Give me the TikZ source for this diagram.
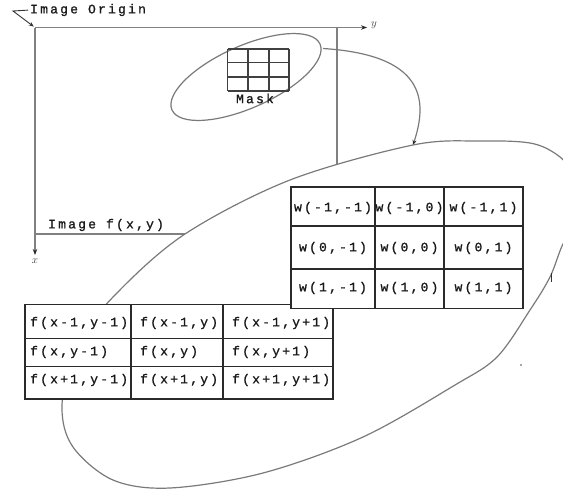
\documentclass[tikz,border=0pt]{standalone}
\usepackage{fontspec}
\newfontfamily\cour[LetterSpace=17,FakeBold=1.2]{Liberation Mono}
\usetikzlibrary{arrows.meta}
\definecolor{axisgray}{HTML}{808080}
\definecolor{ellgray}{HTML}{7A7A7A}
\definecolor{tabline}{HTML}{2A2A2A}
\begin{document}
\begin{tikzpicture}[x=1pt,y=-1pt,
  txt/.style={font=\cour\fontsize{13}{15}\selectfont, inner sep=0pt, text=black!90},
  lab/.style={font=\fontsize{11}{12}\selectfont, inner sep=0pt, text=black!75},
  axis/.style={draw=axisgray, line width=1.8pt},
  ell/.style={draw=ellgray, line width=1.2pt},
  maskline/.style={draw=black!75, line width=1.7pt},
  tab/.style={draw=tabline, line width=1.5pt},
  tip/.style={-{Stealth[length=6pt,width=4.5pt,color=black!85,fill=black!85]}}]
\useasboundingbox (0,0) rectangle (563,490);

% image frame and axes
\coordinate (O) at (35,27.5);
\coordinate (Yend) at (367,27.5);
\coordinate (Xend) at (35,255);
\coordinate (TR) at (337,27.5);
\coordinate (BR) at (337,234);
\coordinate (BL) at (35,234);
\draw[axis] (BL) -- (BR) -- (TR);
\draw[axis, tip] (O) -- (Yend);
\draw[axis, tip] (O) -- (Xend);
\node[lab] (ylab) at (374,25) {$y$};
\node[lab] (xlab) at (35,261) {$x$};
\node[txt, anchor=west] (imgf) at (48,225) {Image f(x,y)};

% image origin label
\node[txt, anchor=west] (orig) at (30,10) {Image Origin};
\coordinate (ob) at (13,11);
\draw[black!80, line width=0.9pt, -{Stealth[length=5pt,width=4pt]}, shorten <=2pt, shorten >=1.5pt] (orig.west) -- (ob) -- (O);

% small ellipse with mask
\coordinate (sm) at (246,77);
\draw[ell, rotate around={24:(sm)}] (sm) ellipse [x radius=81, y radius=31];
\foreach \x in {227.5,248.3,269,289.3} \draw[maskline] (\x,49) -- (\x,91);
\foreach \y in {49,62.5,77.3,91} \draw[maskline] (227.5,\y) -- (289.3,\y);
\node[txt] (mask) at (255,98.5) {Mask};

% connector
\coordinate (cs) at (323,48.5);
\coordinate (ce) at (413,145);
\draw[ell, -{Stealth[length=5pt,width=4pt,color=black!85,fill=black!85]}] (cs) .. controls (425,55) and (428,100) .. (ce);

% big enlarged shape
\draw[ell, fill=white] plot[smooth cycle, tension=0.55] coordinates {
  (185,234) (290,180) (413,145) (480,141) (530,143) (556,154) (572,171)
  (582,200) (576,228) (563,244) (550,277) (530,310) (497,357) (455,385)
  (363,437) (263,473) (170,488) (113,480) (73,447) (62,407) (74,348) (115,295)};

% f table
\draw[tab, fill=white] (25,304.3) rectangle (333,399);
\draw[tab] (131,304.3) -- (131,399) (223,304.3) -- (223,399)
  (25,338.3) -- (333,338.3) (25,366.7) -- (333,366.7);
\node[txt, anchor=west] (f11) at (30,323) {f(x-1,y-1)};
\node[txt, anchor=west] (f12) at (140,323) {f(x-1,y)};
\node[txt, anchor=west] (f13) at (232,323) {f(x-1,y+1)};
\node[txt, anchor=west] (f21) at (30,352) {f(x,y-1)};
\node[txt, anchor=west] (f22) at (140,352) {f(x,y)};
\node[txt, anchor=west] (f23) at (232,352) {f(x,y+1)};
\node[txt, anchor=west] (f31) at (30,380) {f(x+1,y-1)};
\node[txt, anchor=west] (f32) at (140,380) {f(x+1,y)};
\node[txt, anchor=west] (f33) at (232,380) {f(x+1,y+1)};

% w table
\draw[tab, fill=white] (291,187) rectangle (523,308.5);
\draw[tab] (375,187) -- (375,308.5) (444,187) -- (444,308.5)
  (291,226) -- (523,226) (291,269) -- (523,269);
\node[txt] (w11) at (333,208) {w(-1,-1)};
\node[txt] (w12) at (409.5,208) {w(-1,0)};
\node[txt] (w13) at (483.5,208) {w(-1,1)};
\node[txt] (w21) at (333,248) {w(0,-1)};
\node[txt] (w22) at (409.5,248) {w(0,0)};
\node[txt] (w23) at (483.5,248) {w(0,1)};
\node[txt] (w31) at (333,288) {w(1,-1)};
\node[txt] (w32) at (409.5,288) {w(1,0)};
\node[txt] (w33) at (483.5,288) {w(1,1)};

% small stray marks
\draw[black!80, line width=1pt] (551,273) -- (551,282);
\fill[black!70] (521,365) circle (0.8);
\end{tikzpicture}
\end{document}
